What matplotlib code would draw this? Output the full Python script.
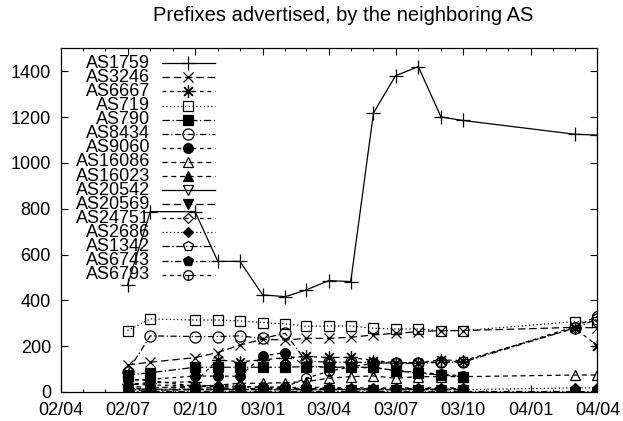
import matplotlib
matplotlib.use("Agg")
import matplotlib.pyplot as plt
import matplotlib.dates as mdates
from matplotlib.path import Path
import pandas as pd

plt.rcParams["font.family"] = ["Liberation Sans", "DejaVu Sans"]
plt.rcParams["font.size"] = 13

months = ["2002-07", "2002-08", "2002-10", "2002-11", "2002-12", "2003-01",
          "2003-02", "2003-03", "2003-04", "2003-05", "2003-06", "2003-07",
          "2003-08", "2003-09", "2003-10", "2004-03", "2004-04"]

as1759 = [467, 787, 787, 570, 570, 424, 416, 445, 486, 482, 1218, 1380, 1420, 1200, 1185, 1125, 1121]
as3246 = [118, 130, 150, 172, 205, 230, 227, 234, 234, 239, 249, 256, 263, 268, 268, 282, 280]
as6667 = [35, 40, 45, 140, 132, 140, 150, 155, 151, 151, 137, 128, 128, 140, 137, 278, 202]
as719 = [268, 319, 314, 314, 310, 303, 297, 287, 288, 288, 278, 275, 275, 268, 268, 307, 305]
as790 = [74, 84, 108, 108, 108, 108, 108, 111, 108, 108, 108, 93, 82, 74, 67, None, None]
as8434 = [89, 245, 242, 242, 245, 234, 256, 135, 130, 130, 128, 125, 125, 130, 130, 280, 318]
as9060 = [52, 55, 70, 69, 69, 157, 172, 112, 110, 108, 105, 95, 85, 78, 70, None, None]
as16086 = [12, 18, 25, 30, 38, 38, 41, 45, 60, 67, 70, 60, 67, 67, 67, 74, 74]
as16023 = [25, 20, 18, 18, 15, 15, 15, 15, 15, 15, 15, 15, 15, 15, 15, None, None]
as20542 = [2, 2, 2, 2, 2, 2, 2, 2, 2, 2, 2, 2, 2, 2, 2, 2, 2]
as20569 = [8, 8, 10, 10, 10, 10, 10, 10, 10, 10, 10, 10, 10, 10, 10, None, None]
as24751 = [35, 30, 28, 28, 25, 22, 20, 20, 20, 18, 18, 18, 18, 18, 18, None, None]
as2686 = [10, 10, 10, 10, 10, 10, 10, 10, 10, 10, 10, 10, 10, 10, 10, 18, 18]
as1342 = [15, 12, 12, 12, 12, 12, 12, 12, 12, 12, 12, 12, 12, 12, 12, None, None]
as6743 = [5, 5, 5, 5, 5, 5, 5, 5, 5, 5, 5, 5, 5, 5, 5, 5, 5]
as6793 = [55, 50, 25, 22, 22, 20, 22, 60, 90, 110, 125, 128, 128, 132, 132, 285, 330]

series = [
    ("AS1759", as1759), ("AS3246", as3246), ("AS6667", as6667),
    ("AS719", as719), ("AS790", as790), ("AS8434", as8434),
    ("AS9060", as9060), ("AS16086", as16086), ("AS16023", as16023),
    ("AS20542", as20542), ("AS20569", as20569), ("AS24751", as24751),
    ("AS2686", as2686), ("AS1342", as1342), ("AS6743", as6743),
    ("AS6793", as6793),
]

# circle with two radii, like gnuplot's clock-face point
clock = Path.make_compound_path(Path.unit_circle(),
                                Path([(0, 0), (0, -1)]),
                                Path([(0, 0), (1, 0)]))
star = (8, 2, 0)

# marker, marker size, filled, dash pattern (None -> solid)
styles = {
    "AS1759": ("+", 10, True, None),
    "AS3246": ("x", 7, True, (6, 3)),
    "AS6667": (star, 9, True, (3, 3)),
    "AS719": ("s", 7, False, (1, 2)),
    "AS790": ("s", 7, True, (6, 2, 1, 2)),
    "AS8434": ("o", 8, False, (5, 2, 1, 2)),
    "AS9060": ("o", 7, True, (3, 3)),
    "AS16086": ("^", 7, False, (4, 3)),
    "AS16023": ("^", 7, True, (4, 3)),
    "AS20542": ("v", 7, False, None),
    "AS20569": ("v", 7, True, (6, 3)),
    "AS24751": ("D", 5, False, (3, 3)),
    "AS2686": ("D", 5, True, (1, 2)),
    "AS1342": ("p", 7, False, (6, 2, 1, 2)),
    "AS6743": ("p", 7, True, (5, 2, 1, 2)),
    "AS6793": (clock, 7, False, (3, 3)),
}


def line_kw(name):
    marker, size, filled, dashes = styles[name]
    ls = "-" if dashes is None else (0, dashes)
    return dict(color="black", linewidth=0.9, linestyle=ls, marker=marker,
                markersize=size, markeredgewidth=0.9,
                markerfacecolor="black" if filled else "none",
                markeredgecolor="black")


dates = pd.to_datetime(months)

fig = plt.figure(figsize=(6.23, 4.21), dpi=100)
ax = fig.add_axes([0.0974, 0.0689, 0.8616, 0.8164])

for name, values in series:
    s = pd.Series(values, index=dates, dtype=float).dropna()
    ax.plot(s.index, s.values, **line_kw(name))

ax.set_xlim(pd.Timestamp("2002-04-01"), pd.Timestamp("2004-04-01"))
ax.set_ylim(0, 1500)
ax.set_yticks(range(0, 1401, 200))
ax.xaxis.set_major_locator(mdates.MonthLocator(bymonth=[1, 4, 7, 10]))
ax.xaxis.set_minor_locator(mdates.MonthLocator())
ax.xaxis.set_major_formatter(mdates.DateFormatter("%y/%m"))
ax.tick_params(which="both", direction="in", top=True, right=True,
               width=0.8, pad=7)
ax.tick_params(which="major", length=5)
ax.tick_params(which="minor", length=2.5)
for sp in ax.spines.values():
    sp.set_linewidth(0.9)

fig.text(0.551, 0.964, "Prefixes advertised, by the neighboring AS",
         ha="center", va="center", fontsize=14.5)

# gnuplot-style key: label, then a sample line with its point in the middle
key_x, line_x0, line_x1 = 0.1664, 0.1887, 0.2874
key_top, key_step = 0.9564, 0.0410
for i, (name, _) in enumerate(series):
    y = key_top - i * key_step
    ax.text(key_x, y, name, transform=ax.transAxes, ha="right", va="center")
    ax.plot([line_x0, (line_x0 + line_x1) / 2, line_x1], [y, y, y],
            transform=ax.transAxes, markevery=[1], clip_on=False,
            **line_kw(name))

fig.savefig("out.png", dpi=100)
